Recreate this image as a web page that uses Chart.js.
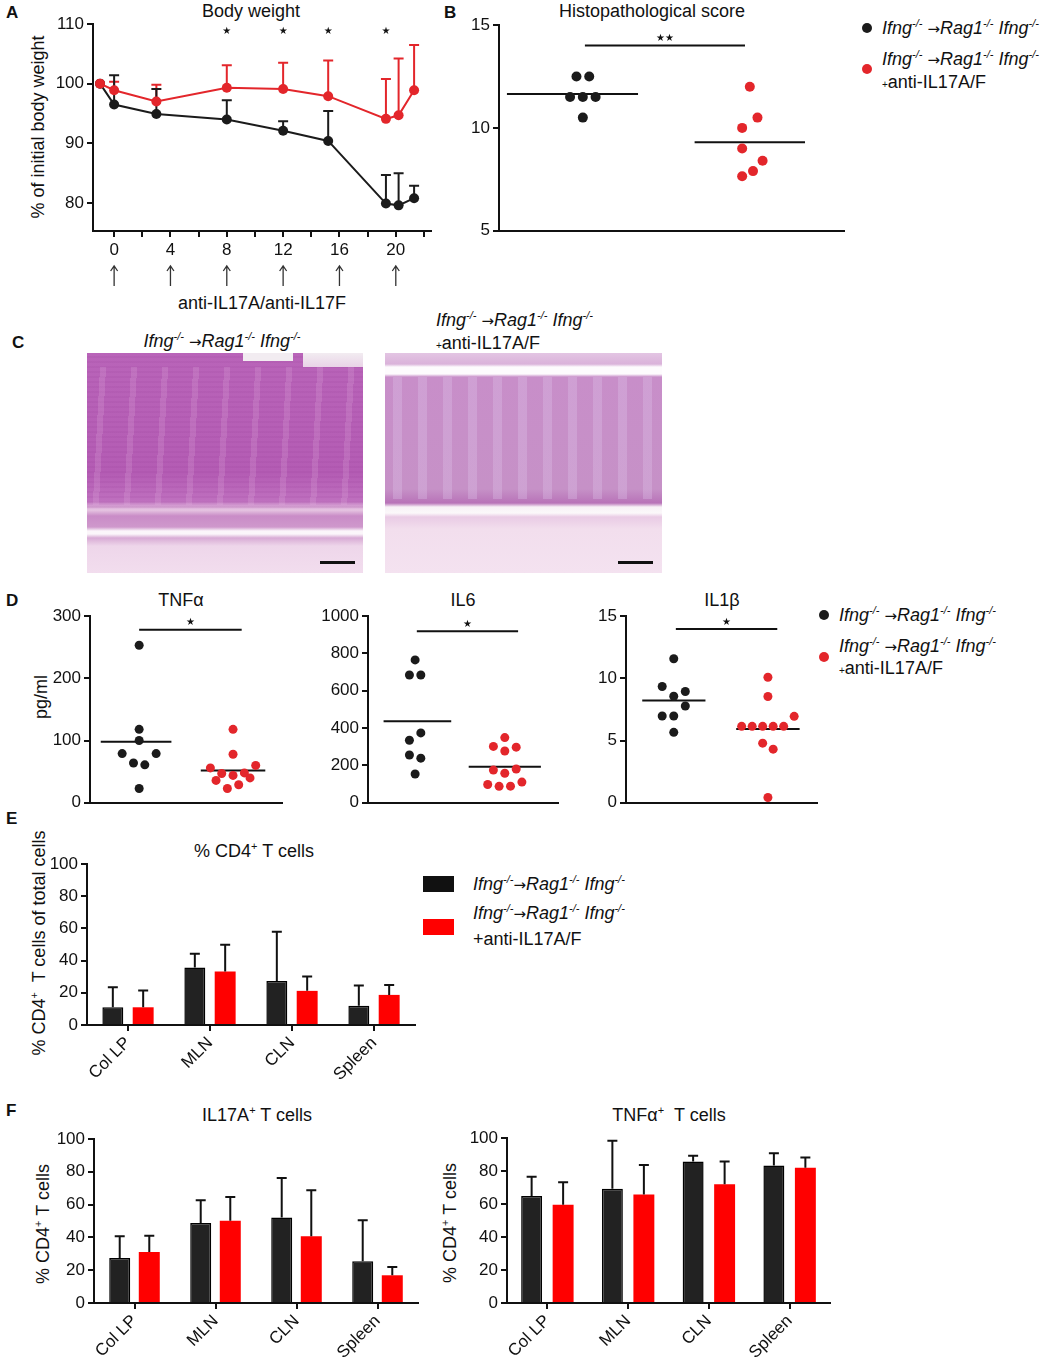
<!DOCTYPE html>
<html>
<head>
<meta charset="utf-8">
<title>IL17A/F blockade</title>
<script src="https://cdn.jsdelivr.net/npm/chart.js@4.4.1/dist/chart.umd.min.js"></script>
<style>
  body { margin:0; width:1061px; height:1360px; position:relative; background:#fff; overflow:hidden;
         font-family:"Liberation Sans", Arial, sans-serif; color:#111; }
  canvas { position:absolute; }
  .t { position:absolute; white-space:nowrap; font-size:18px; line-height:1; transform:translate(-50%,-50%); }
  .l { position:absolute; white-space:nowrap; font-size:18px; line-height:1; transform:translate(0,-50%); }
  .p { position:absolute; font-weight:bold; font-size:17px; line-height:1; transform:translate(0,-50%); }
  .r { position:absolute; white-space:nowrap; font-size:18px; line-height:1; transform:translate(-50%,-50%) rotate(-90deg); }
  sup { font-size:11px; vertical-align:7px; line-height:0; }
  small { font-size:10px; }
  .ar { font-style:normal; font-family:"DejaVu Sans", sans-serif; font-size:15px; }
  .dot { position:absolute; width:10px; height:10px; border-radius:50%; transform:translate(-50%,-50%); }
  .sw { position:absolute; width:31px; height:16px; }
  .histo { position:absolute; overflow:hidden; }
  .sbar { position:absolute; height:3px; width:35px; background:#111; }
</style>
</head>
<body>

<!-- panel letters and titles -->
<div class="p" style="left:6px;top:12px">A</div>
<div class="t" style="left:251px;top:11px">Body weight</div>
<div class="r" style="left:38px;top:127px">% of initial body weight</div>
<div class="t" style="left:262px;top:303px">anti-IL17A/anti-IL17F</div>

<div class="p" style="left:444px;top:12px">B</div>
<div class="t" style="left:652px;top:11px">Histopathological score</div>
<div class="dot" style="left:867px;top:28px;background:#1b1b1b"></div>
<div class="l" style="left:882px;top:28px"><i>Ifng<sup>-/-</sup> <span class="ar">→</span>Rag1<sup>-/-</sup> Ifng<sup>-/-</sup></i></div>
<div class="dot" style="left:867px;top:69px;background:#e3262b"></div>
<div class="l" style="left:882px;top:59px"><i>Ifng<sup>-/-</sup> <span class="ar">→</span>Rag1<sup>-/-</sup> Ifng<sup>-/-</sup></i></div>
<div class="l" style="left:882px;top:82px"><small>+</small>anti-IL17A/F</div>

<div class="p" style="left:12px;top:342px">C</div>
<div class="t" style="left:222px;top:341px"><i>Ifng<sup>-/-</sup> <span class="ar">→</span>Rag1<sup>-/-</sup> Ifng<sup>-/-</sup></i></div>
<div class="l" style="left:436px;top:320px"><i>Ifng<sup>-/-</sup> <span class="ar">→</span>Rag1<sup>-/-</sup> Ifng<sup>-/-</sup></i></div>
<div class="l" style="left:436px;top:343px"><small>+</small>anti-IL17A/F</div>

<!-- histology sections (photographs in the original) -->
<div class="histo" style="left:87px;top:353px;width:276px;height:220px;
  background:
    repeating-linear-gradient(93deg, rgba(232,190,228,0) 0 13px, rgba(232,190,228,.18) 13px 19px, rgba(232,190,228,0) 19px 31px) 0 14px / 100% 138px no-repeat,
    repeating-linear-gradient(0deg, rgba(140,50,140,.10) 0 2px, rgba(140,50,140,0) 2px 5px) 0 0 / 100% 155px no-repeat,
    linear-gradient(180deg, #b964b9 0, #b45cb4 120px, #bf70bf 148px, #e6c5e2 157px, #c98cc7 163px, #cf98cc 174px, #fbf6fa 178px, #fbf6fa 181px, #d8abd5 185px, #eed6ea 193px, #f2ddee 220px);">
  <div style="position:absolute;left:156px;top:0;width:50px;height:8px;background:#f2ecf1"></div>
  <div style="position:absolute;left:216px;top:0;width:60px;height:14px;background:linear-gradient(180deg,#f2ecf1,#e9d3e7)"></div>
  <div class="sbar" style="left:233px;top:208px"></div>
</div>
<div class="histo" style="left:385px;top:353px;width:277px;height:220px;
  background:
    repeating-linear-gradient(90deg, rgba(226,200,236,0) 0 8px, rgba(222,196,234,.32) 8px 17px, rgba(226,200,236,0) 17px 25px) 0 24px / 100% 122px no-repeat,
    linear-gradient(180deg, #e3c5e3 0, #dab2da 11px, #fdfbfd 14px, #fdfbfd 21px, #c88ec9 24px, #c691c7 136px, #b873b8 150px, #f8f2f7 154px, #fbf8fa 160px, #e9cbe5 164px, #f2deed 176px, #f4e2f0 220px);">
  <div class="sbar" style="left:233px;top:208px"></div>
</div>

<div class="p" style="left:6px;top:600px">D</div>
<div class="t" style="left:181px;top:600px">TNFα</div>
<div class="t" style="left:463px;top:600px">IL6</div>
<div class="t" style="left:722px;top:600px">IL1β</div>
<div class="r" style="left:41px;top:697px">pg/ml</div>
<div class="dot" style="left:824px;top:615px;background:#1b1b1b"></div>
<div class="l" style="left:839px;top:615px"><i>Ifng<sup>-/-</sup> <span class="ar">→</span>Rag1<sup>-/-</sup> Ifng<sup>-/-</sup></i></div>
<div class="dot" style="left:824px;top:657px;background:#e3262b"></div>
<div class="l" style="left:839px;top:646px"><i>Ifng<sup>-/-</sup> <span class="ar">→</span>Rag1<sup>-/-</sup> Ifng<sup>-/-</sup></i></div>
<div class="l" style="left:839px;top:668px"><small>+</small>anti-IL17A/F</div>

<div class="p" style="left:6px;top:818px">E</div>
<div class="t" style="left:254px;top:851px">% CD4<sup>+</sup> T cells</div>
<div class="r" style="left:39px;top:943px">% CD4<sup>+</sup>&nbsp; T cells of total cells</div>
<div class="sw" style="left:423px;top:876px;background:#111"></div>
<div class="l" style="left:473px;top:884px"><i>Ifng<sup>-/-</sup><span class="ar">→</span>Rag1<sup>-/-</sup> Ifng<sup>-/-</sup></i></div>
<div class="sw" style="left:423px;top:919px;background:#ff0000"></div>
<div class="l" style="left:473px;top:913px"><i>Ifng<sup>-/-</sup><span class="ar">→</span>Rag1<sup>-/-</sup> Ifng<sup>-/-</sup></i></div>
<div class="l" style="left:473px;top:939px">+anti-IL17A/F</div>

<div class="p" style="left:6px;top:1110px">F</div>
<div class="t" style="left:257px;top:1115px">IL17A<sup>+</sup> T cells</div>
<div class="r" style="left:43px;top:1224px">% CD4<sup>+</sup> T cells</div>
<div class="t" style="left:669px;top:1115px">TNFα<sup>+</sup>&nbsp; T cells</div>
<div class="r" style="left:450px;top:1223px">% CD4<sup>+</sup> T cells</div>

<canvas id="weight"></canvas>
<canvas id="histo"></canvas>
<canvas id="tnf"></canvas>
<canvas id="il6"></canvas>
<canvas id="il1b"></canvas>
<canvas id="cd4"></canvas>
<canvas id="il17t"></canvas>
<canvas id="tnft"></canvas>

<script>
// A - body weight (% of initial), mean with upper SD
const days          = [-1, 0, 3, 8, 12, 15.2, 19.3, 20.2, 21.3];
const weightCtrl    = [100, 96.5, 94.9, 94.0, 92.1, 90.4, 79.9, 79.6, 80.8];
const weightCtrlSd  = [0, 4.9, 4.2, 3.2, 1.6, 5.0, 4.8, 5.4, 2.1];
const weightAnti    = [100, 98.9, 97.0, 99.3, 99.1, 97.9, 94.1, 94.7, 98.9];
const weightAntiSd  = [0, 1.4, 2.8, 3.8, 4.4, 6.0, 6.7, 9.5, 7.6];
const starDays      = [8, 12, 15.2, 19.3];
const injectionDays = [0, 4, 8, 12, 16, 20];
const dayTicks      = [0, 2, 4, 6, 8, 10, 12, 14, 16, 18, 20, 22];
const weightTicks   = [80, 90, 100, 110];

// B - histopathological score per mouse
const histoCtrl  = [12.5, 12.5, 11.5, 11.5, 11.5, 10.5];
const histoAnti  = [12.0, 10.5, 10.0, 9.0, 8.4, 7.9, 7.65];
const histoMeans = [11.65, 9.3];

// D - cytokines (pg/ml) per mouse
const tnfCtrl  = [253, 118, 100, 79, 79, 64, 61, 23];
const tnfAnti  = [118, 78, 56, 60, 47, 44, 48, 36, 40, 23, 29];
const tnfMeans = [98, 52];
const il6Ctrl  = [765, 684, 684, 374, 335, 256, 239, 154];
const il6Anti  = [349, 302, 298, 277, 175, 181, 158, 98, 88, 89, 111];
const il6Means = [437, 193];
const il1bCtrl  = [11.57, 9.34, 8.94, 8.56, 7.77, 6.97, 6.97, 5.66];
const il1bAnti  = [10.08, 8.54, 6.94, 6.14, 6.14, 6.14, 6.14, 6.14, 4.79, 4.31, 0.43];
const il1bMeans = [8.22, 5.93];

// E, F - flow cytometry, mean and SD
const organs       = ['Col LP', 'MLN', 'CLN', 'Spleen'];
const cd4Ctrl      = [11.0, 35.7, 27.4, 12.0];
const cd4CtrlSd    = [12.4, 8.5, 30.5, 12.5];
const cd4Anti      = [11.0, 33.2, 21.2, 18.7];
const cd4AntiSd    = [10.4, 16.6, 8.9, 6.2];
const il17Ctrl     = [27.4, 48.8, 52.2, 25.4];
const il17CtrlSd   = [13.3, 13.8, 24.0, 25.0];
const il17Anti     = [31.1, 50.2, 40.7, 16.9];
const il17AntiSd   = [9.9, 14.4, 28.0, 5.1];
const tnfTCtrl     = [64.9, 69.2, 85.8, 83.4];
const tnfTCtrlSd   = [11.6, 29.2, 3.4, 7.3];
const tnfTAnti     = [59.6, 65.7, 72.0, 81.9];
const tnfTAntiSd   = [13.6, 17.9, 13.8, 6.3];

// horizontal spread of the dots (in dot slots), like Prism's scatter layout
const histoCtrlSpread = [-0.5, 0.5, -1, 0, 1, 0];
const histoAntiSpread = [0, 0.6, -0.6, -0.6, 1, 0.25, -0.6];
const tnfCtrlSpread   = [0, 0, 0, -1.5, 1.5, -0.5, 0.5, 0];
const tnfAntiSpread   = [0, 0, -2, 2, -1, 0, 1, -1.5, 1.5, -0.5, 0.5];
const il6CtrlSpread   = [0, -0.5, 0.5, 0.5, -0.5, -0.5, 0.5, 0];
const il6AntiSpread   = [0, -1, 1, 0, -1, 1, 0, -1.5, -0.5, 0.5, 1.5];
const il1bCtrlSpread  = [0, -1.1, 1.1, 0, 1.1, -1.1, 0, 0];
const il1bAntiSpread  = [0, 0, 2.5, -2.5, -1.5, -0.5, 0.5, 1.5, -0.5, 0.5, 0];

const INK = '#111', BLACK = '#1b1b1b', RED = '#e3262b', BAR_RED = '#ff0000';
Chart.defaults.font.family = '"Liberation Sans", Arial, sans-serif';
Chart.defaults.font.size = 17;
Chart.defaults.color = INK;
Chart.defaults.animation = false;
Chart.defaults.plugins.legend.display = false;
Chart.defaults.plugins.tooltip.enabled = false;

// canvas is placed so that the plot area lands on the given page box
function place(id, area, xH, cfg) {
  const YW = 60, PT = 14, PR = 14;
  const cv = document.getElementById(id);
  const w = area[2] - area[0] + YW + PR, h = area[3] - area[1] + PT + xH;
  cv.style.left = (area[0] - YW) + 'px';
  cv.style.top = (area[1] - PT) + 'px';
  cv.width = w; cv.height = h;
  cv.style.width = w + 'px'; cv.style.height = h + 'px';
  cfg.options.responsive = false;
  cfg.options.layout = { padding: { top: PT, right: PR, left: 0, bottom: 0 } };
  cfg.options.scales.y.afterFit = s => { s.width = YW; };
  cfg.options.scales.x.afterFit = s => { s.height = xH; };
  return new Chart(cv, cfg);
}

function yAxis(min, max, step) {
  return {
    min, max,
    ticks: { stepSize: step, padding: 3, callback: v => String(v) },
    grid: { drawOnChartArea: false, color: INK, lineWidth: 2, tickLength: 6 },
    border: { color: INK, width: 2 }
  };
}

// upper error bars, drawn through the y scale
function drawErrors(chart) {
  const ctx = chart.ctx, ys = chart.scales.y;
  chart.data.datasets.forEach((ds, di) => {
    if (!ds.errors) return;
    const meta = chart.getDatasetMeta(di);
    ctx.save();
    ctx.strokeStyle = ds.errorColor || INK;
    ctx.lineWidth = 2;
    meta.data.forEach((el, i) => {
      const e = ds.errors[i];
      if (!e) return;
      const v = typeof ds.data[i] === 'object' ? ds.data[i].y : ds.data[i];
      const top = ys.getPixelForValue(v + e);
      ctx.beginPath();
      ctx.moveTo(el.x, el.y); ctx.lineTo(el.x, top);
      ctx.moveTo(el.x - 5, top); ctx.lineTo(el.x + 5, top);
      ctx.stroke();
    });
    ctx.restore();
  });
}
const errUnder = { id: 'errUnder', beforeDatasetsDraw: drawErrors };
const errOver = { id: 'errOver', afterDatasetsDraw: drawErrors };

// significance stars and injection arrows
function marks(stars, arrows) {
  return {
    id: 'marks',
    afterDraw(chart) {
      const ctx = chart.ctx, xs = chart.scales.x, ys = chart.scales.y;
      ctx.save();
      ctx.fillStyle = INK;
      ctx.font = '10px "DejaVu Sans"';
      ctx.textAlign = 'center';
      ctx.textBaseline = 'bottom';
      stars.forEach(s => ctx.fillText(s.text, xs.getPixelForValue(s.x), ys.getPixelForValue(s.y) - 2));
      ctx.strokeStyle = '#333';
      ctx.lineWidth = 1.3;
      const b = chart.chartArea.bottom;
      arrows.forEach(d => {
        const x = xs.getPixelForValue(d);
        ctx.beginPath();
        ctx.moveTo(x, b + 55); ctx.lineTo(x, b + 35);
        ctx.moveTo(x - 3.5, b + 40); ctx.lineTo(x, b + 35); ctx.lineTo(x + 3.5, b + 40);
        ctx.stroke();
      });
      ctx.restore();
    }
  };
}

// A
place('weight', [93, 24, 431, 231], 62, {
  type: 'line',
  data: {
    datasets: [
      { data: days.map((d, i) => ({ x: d, y: weightAnti[i] })), errors: weightAntiSd, errorColor: RED,
        borderColor: RED, backgroundColor: RED, borderWidth: 2, pointRadius: 5, pointBorderWidth: 0, tension: 0 },
      { data: days.map((d, i) => ({ x: d, y: weightCtrl[i] })), errors: weightCtrlSd, errorColor: BLACK,
        borderColor: BLACK, backgroundColor: BLACK, borderWidth: 2, pointRadius: 5, pointBorderWidth: 0, tension: 0 }
    ]
  },
  options: {
    scales: {
      x: {
        type: 'linear', min: -1.5, max: 22.5,
        afterBuildTicks: s => { s.ticks = dayTicks.map(v => ({ value: v })); },
        ticks: { autoSkip: false, maxRotation: 0, padding: 3, callback: v => (v % 4 === 0 ? v : '') },
        grid: { drawOnChartArea: false, color: INK, lineWidth: 2, tickLength: 6 },
        border: { color: INK, width: 2 }
      },
      y: Object.assign(yAxis(75.3, 110, 10), {
        afterBuildTicks: s => { s.ticks = weightTicks.map(v => ({ value: v })); }
      })
    }
  },
  plugins: [errUnder, marks(starDays.map(d => ({ x: d, y: 107.6, text: '★' })), injectionDays)]
});

// B, D - dot plots with group means
function dotPlot(id, area, yMin, yMax, step, ctrl, ctrlSpread, anti, antiSpread, means, lay) {
  const pts = (vals, spread, c) => vals.map((v, i) => ({ x: c + spread[i] * lay.slot, y: v }));
  const seg = (a, b, y) => [{ x: a, y }, { x: b, y }];
  const flat = { showLine: true, borderColor: INK, borderWidth: 2, pointRadius: 0 };
  const c = lay.centers;
  place(id, area, 10, {
    type: 'scatter',
    data: {
      datasets: [
        { data: pts(ctrl, ctrlSpread, c[0]), backgroundColor: BLACK, pointRadius: lay.r, pointBorderWidth: 0 },
        { data: pts(anti, antiSpread, c[1]), backgroundColor: RED, pointRadius: lay.r, pointBorderWidth: 0 },
        Object.assign({ data: seg(c[0] - lay.half[0], c[0] + lay.half[1], means[0]) }, flat),
        Object.assign({ data: seg(c[1] - lay.half[1], c[1] + lay.half[1], means[1]) }, flat),
        Object.assign({ data: seg(lay.sig[0], lay.sig[1], lay.sigY) }, flat)
      ]
    },
    options: {
      scales: {
        x: { type: 'linear', min: 0, max: 1, ticks: { display: false }, grid: { display: false },
             border: { color: INK, width: 2 } },
        y: yAxis(yMin, yMax, step)
      }
    },
    plugins: [marks([{ x: (lay.sig[0] + lay.sig[1]) / 2, y: lay.sigY, text: lay.star }], [])]
  });
}

dotPlot('histo', [499, 25, 844, 234], 5, 15, 5, histoCtrl, histoCtrlSpread, histoAnti, histoAntiSpread, histoMeans,
  { centers: [0.243, 0.727], slot: 0.037, r: 5, half: [0.22, 0.16], sig: [0.249, 0.713], sigY: 14.0, star: '★★' });
dotPlot('tnf', [90, 616, 282, 806], 0, 300, 100, tnfCtrl, tnfCtrlSpread, tnfAnti, tnfAntiSpread, tnfMeans,
  { centers: [0.256, 0.745], slot: 0.059, r: 4.5, half: [0.2, 0.168], sig: [0.256, 0.79], sigY: 278, star: '★' });
dotPlot('il6', [368, 616, 558, 806], 0, 1000, 200, il6Ctrl, il6CtrlSpread, il6Anti, il6AntiSpread, il6Means,
  { centers: [0.248, 0.72], slot: 0.06, r: 4.5, half: [0.166, 0.19], sig: [0.257, 0.79], sigY: 919, star: '★' });
dotPlot('il1b', [626, 616, 817, 806], 0, 15, 5, il1bCtrl, il1bCtrlSpread, il1bAnti, il1bAntiSpread, il1bMeans,
  { centers: [0.25, 0.743], slot: 0.055, r: 4.5, half: [0.165, 0.166], sig: [0.261, 0.792], sigY: 13.96, star: '★' });

// E, F - grouped bars with SD
function barPlot(id, area, ctrl, ctrlSd, anti, antiSd, cat, bar) {
  place(id, area, 72, {
    type: 'bar',
    data: {
      labels: organs,
      datasets: [
        { data: ctrl, errors: ctrlSd, backgroundColor: '#222', borderColor: '#000', borderWidth: 1.5,
          categoryPercentage: cat, barPercentage: bar },
        { data: anti, errors: antiSd, backgroundColor: BAR_RED, borderWidth: 0,
          categoryPercentage: cat, barPercentage: bar }
      ]
    },
    options: {
      scales: {
        x: {
          ticks: { minRotation: 45, maxRotation: 45, autoSkip: false, padding: 2 },
          grid: { offset: false, drawOnChartArea: false, color: INK, lineWidth: 2, tickLength: 6 },
          border: { color: INK, width: 2 }
        },
        y: yAxis(0, 100, 20)
      }
    },
    plugins: [errOver]
  });
}

barPlot('cd4', [87, 864, 415, 1025], cd4Ctrl, cd4CtrlSd, cd4Anti, cd4AntiSd, 0.74, 0.69);
barPlot('il17t', [94, 1139, 418, 1303], il17Ctrl, il17CtrlSd, il17Anti, il17AntiSd, 0.73, 0.71);
barPlot('tnft', [507, 1138, 830, 1303], tnfTCtrl, tnfTCtrlSd, tnfTAnti, tnfTAntiSd, 0.78, 0.665);
</script>
</body>
</html>
